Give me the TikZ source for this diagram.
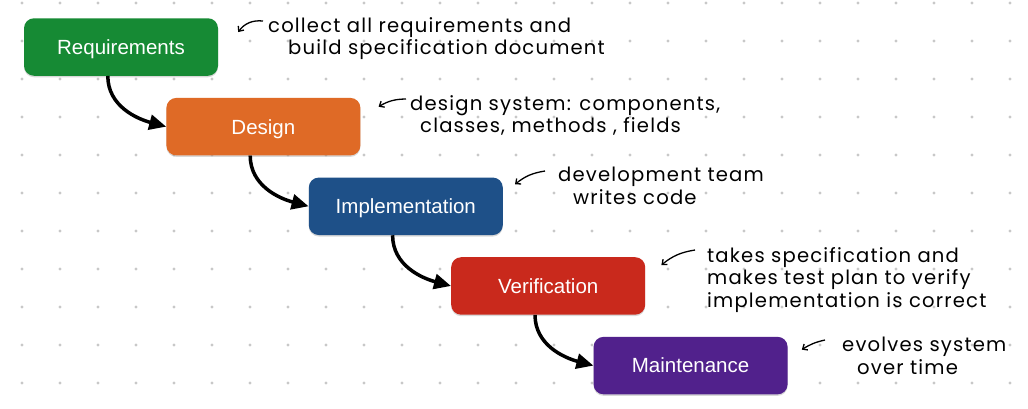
\documentclass[tikz,border=0pt]{standalone}
\usepackage{fontspec}
\setmainfont{Liberation Sans}
\newfontfamily\handfont[LetterSpace=6]{Poppins}
\usetikzlibrary{arrows.meta, positioning, shadows}

\definecolor{reqgreen}{HTML}{168A34}
\definecolor{desorange}{HTML}{DF6A26}
\definecolor{impblue}{HTML}{1E5088}
\definecolor{verred}{HTML}{C9291C}
\definecolor{mntpurple}{HTML}{51218C}
\definecolor{griddot}{HTML}{C8C8C8}

\newcommand{\notefont}{\handfont\fontsize{19.6}{22.5}\selectfont}

\begin{document}
\begin{tikzpicture}[
  x=1pt, y=1pt,
  node distance=21.75pt and -52pt,
  stage/.style={rectangle, rounded corners=10pt, text=white,
                minimum width=194pt, minimum height=57.5pt, inner sep=0pt,
                text height=14.7pt, text depth=0pt,
                font=\fontsize{20.5}{24}\selectfont,
                drop shadow={shadow xshift=0pt, shadow yshift=-1.5pt, opacity=0.3}},
  flow/.style={-{Triangle[length=17pt,width=15pt]}, line width=3.5pt},
  note/.style={font=\notefont, align=left, inner sep=0pt, anchor=north west},
  hint/.style={-{Straight Barb[length=4pt,width=7pt]}, line width=1.3pt},
]
\fill [white] (0,0) rectangle (1028,-408);
\useasboundingbox (0,0) rectangle (1028,-408);
% dotted paper
\foreach \i in {0,...,26}
  \foreach \j in {0,...,10}
    \fill [griddot] (22+38*\i,-3-38*\j) circle (1.7);
% stages
\node (req)    [stage, fill=reqgreen] at (121,-47) {Requirements};
\node (design) [stage, fill=desorange, below right=of req]    {Design};
\node (impl)   [stage, fill=impblue, below right=of design]   {Implementation};
\node (verif)  [stage, fill=verred, below right=of impl]      {Verification};
\node (maint)  [stage, fill=mntpurple, below right=of verif]  {Maintenance};
% waterfall edges
\foreach \a/\b in {req/design,design/impl,impl/verif,verif/maint}
  \draw [flow] ([xshift=84pt]\a.south west) to[out=-90,in=165] (\b.west);
% notes
\node (reqnote) [note] at (268,-17)
  {collect all requirements and\\\hspace*{20pt}build specification document};
\node (desnote) [note] at (410,-95)
  {design system: components,\\\hspace*{10pt}classes, methods , fields};
\node (impnote) [note] at (558,-167)
  {development team\\\hspace*{15pt}writes code};
\node (vernote) [note] at (707,-247)
  {takes specification and\\makes test plan to verify\\implementation is correct};
\node (mntnote) [note] at (842,-337)
  {evolves system\\\hspace*{15pt}over time};
% hint arrows
\coordinate (reqtip) at ([shift={(20,-14)}]req.north east);
\coordinate (destip) at ([shift={(18,-9)}]design.north east);
\coordinate (imptip) at ([shift={(12,-7)}]impl.north east);
\coordinate (vertip) at ([shift={(16,-8)}]verif.north east);
\coordinate (mnttip) at ([shift={(14,-13)}]maint.north east);
\draw [hint] ([shift={(-5,-4)}]reqnote.north west) to[bend right=30] (reqtip);
\draw [hint] ([shift={(-4,-4)}]desnote.north west) to[bend right=15] (destip);
\draw [hint] ([shift={(-13,-4)}]impnote.north west) to[bend right=15] (imptip);
\draw [hint] ([shift={(-12,-3)}]vernote.north west) to[bend right=15] (vertip);
\draw [hint] ([shift={(-17,-3)}]mntnote.north west) to[bend right=10] (mnttip);
\end{tikzpicture}
\end{document}
